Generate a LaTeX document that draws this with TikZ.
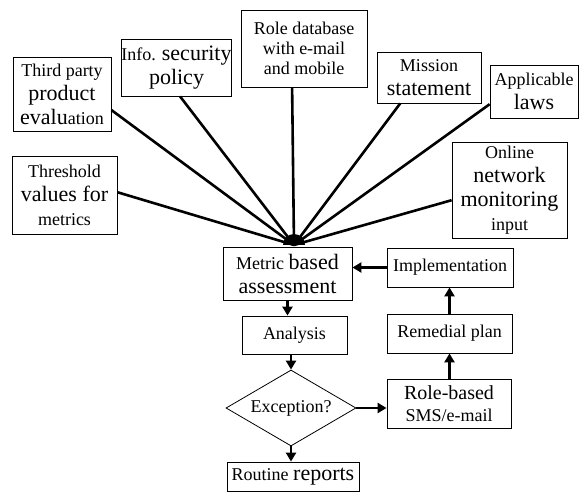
\documentclass[tikz,border=0pt]{standalone}
\usepackage{fontspec}
\setmainfont{Liberation Serif}
\usetikzlibrary{shapes.geometric,arrows.meta}
\newcommand{\smtxt}{\fontsize{18}{24}\selectfont}
\newcommand{\bgtxt}{\fontsize{22}{24}\selectfont}
\tikzset{
  srcbox/.style = {rectangle, draw=black, line width=0.8pt, align=center,
    inner sep=0pt, font=\smtxt},% input box
  stepbox/.style = {srcbox},% flow step
  decision/.style = {diamond, draw=black, line width=0.8pt, aspect=1.7,
    inner sep=0pt, font=\smtxt},% test
  feed/.style = {line width=2.6pt},% input into assessment
  flow/.style = {line width=2.4pt, -{Triangle[length=9pt,width=10pt]}}
}

\begin{document}
\begin{tikzpicture}[x=1pt,y=-1pt]
\useasboundingbox (0,0) rectangle (579,492);
% input boxes
\node [srcbox, minimum width=98, minimum height=74] (third) at (62,94)
  {Third party\\{\bgtxt product}\\{\bgtxt evalu}ation};
\node [srcbox, minimum width=109, minimum height=57] (infosec) at (176.5,67.5)
  {Info. {\bgtxt security}\\{\bgtxt policy}};
\node [srcbox, minimum width=126, minimum height=77,
  font=\fontsize{18}{20}\selectfont] (roledb) at (304,48.5)
  {Role database\\with e-mail\\and mobile};
\node [srcbox, minimum width=104, minimum height=51] (mission) at (429,77.5)
  {Mission\\{\bgtxt statement}};
\node [srcbox, minimum width=88, minimum height=53] (laws) at (534,91.5)
  {Applicable\\{\bgtxt laws}};
\node [srcbox, minimum width=115, minimum height=96] (online) at (509.5,190)
  {Online\\{\bgtxt network}\\{\bgtxt monitoring}\\input};
\node [srcbox, minimum width=105, minimum height=78] (thresh) at (64.5,195)
  {Threshold\\{\bgtxt values for}\\metrics};
% flow steps
\node [stepbox, minimum width=129, minimum height=53] (metric) at (287.5,273.5)
  {Metric {\bgtxt based}\\{\bgtxt assessment}};
\node [stepbox, minimum width=126, minimum height=39] (impl) at (450,267.5)
  {Implementation};
\node [stepbox, minimum width=105, minimum height=38] (analysis) at (294.5,335)
  {Analysis};
\node [stepbox, minimum width=125, minimum height=39] (remedial) at (449.5,333.5)
  {Remedial plan};
\node [decision, minimum width=130, minimum height=76] (exc) at (291,408)
  {Exception?};
\node [stepbox, minimum width=124, minimum height=49,
  font=\fontsize{18}{22}\selectfont] (rolesms) at (449,403.5)
  {{\fontsize{20}{22}\selectfont Role-based}\\SMS/e-mail};
\node [stepbox, minimum width=132, minimum height=29] (routine) at (293,476.5)
  {Routine {\bgtxt reports}};

\coordinate (hub) at (294,245);
\fill (hub) ++(-11,0) arc[start angle=180, end angle=360, radius=11] -- cycle;
\foreach \src/\ang in {third/-18, infosec/-83, roledb/-107, mission/-138,
  laws/-164, online/-170, thresh/3}
  \draw [feed] (\src.\ang) -- (hub);

\draw [flow] (metric.south) -- (metric.south |- analysis.north);
\draw [flow] (exc.north |- analysis.south) -- (exc.north);
\draw [flow] (exc.south) -- (exc.south |- routine.north);
\draw [flow] (exc.east) -- (exc.east -| rolesms.west);
\draw [flow] (rolesms.north -| remedial.south) -- (remedial.south);
\draw [flow] (remedial.north) -- (remedial.north |- impl.south);
\draw [flow] (impl.west) -- (impl.west -| metric.east);
\end{tikzpicture}
\end{document}
